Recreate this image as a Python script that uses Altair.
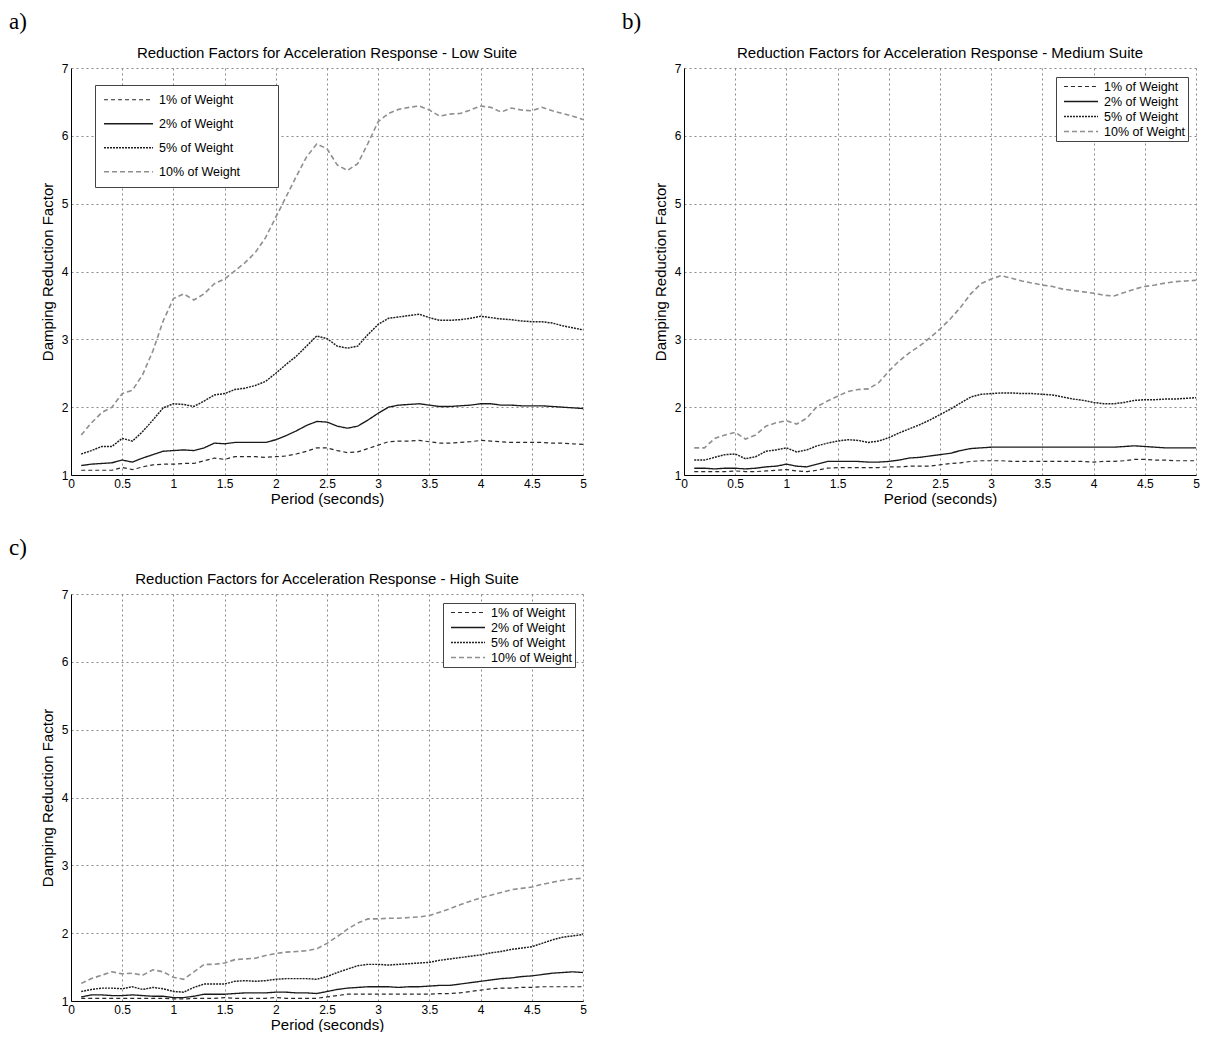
import altair as alt
import pandas as pd

periods = [round(0.1 * i, 1) for i in range(1, 51)]
series_names = ["1% of Weight", "2% of Weight", "5% of Weight", "10% of Weight"]
x_ticks = [0, 0.5, 1, 1.5, 2, 2.5, 3, 3.5, 4, 4.5, 5]
y_ticks = [1, 2, 3, 4, 5, 6, 7]

# ---- Panel a: Low Suite ----
low_1 = [1.07, 1.07, 1.07, 1.07, 1.11, 1.08, 1.12, 1.15, 1.16, 1.16,
         1.17, 1.17, 1.21, 1.25, 1.23, 1.27, 1.27, 1.27, 1.26, 1.27,
         1.28, 1.31, 1.35, 1.40, 1.40, 1.36, 1.33, 1.34, 1.39, 1.44,
         1.49, 1.50, 1.50, 1.51, 1.49, 1.47, 1.47, 1.48, 1.49, 1.51,
         1.50, 1.49, 1.48, 1.48, 1.48, 1.48, 1.47, 1.47, 1.46, 1.45]
low_2 = [1.14, 1.16, 1.17, 1.18, 1.22, 1.19, 1.25, 1.30, 1.35, 1.36,
         1.37, 1.36, 1.40, 1.47, 1.46, 1.48, 1.48, 1.48, 1.48, 1.52,
         1.58, 1.65, 1.73, 1.79, 1.78, 1.72, 1.69, 1.72, 1.81, 1.91,
         2.00, 2.03, 2.04, 2.05, 2.03, 2.01, 2.01, 2.02, 2.03, 2.05,
         2.05, 2.03, 2.03, 2.02, 2.02, 2.02, 2.01, 2.00, 1.99, 1.98]
low_5 = [1.31, 1.36, 1.42, 1.42, 1.54, 1.50, 1.64, 1.81, 1.99, 2.05,
         2.04, 2.01, 2.09, 2.18, 2.20, 2.26, 2.28, 2.32, 2.38, 2.50,
         2.63, 2.75, 2.90, 3.05, 3.01, 2.90, 2.87, 2.90, 3.07, 3.22,
         3.31, 3.33, 3.35, 3.37, 3.32, 3.28, 3.28, 3.29, 3.31, 3.34,
         3.32, 3.30, 3.29, 3.27, 3.26, 3.26, 3.24, 3.20, 3.17, 3.14]
low_10 = [1.59, 1.77, 1.92, 2.00, 2.20, 2.25, 2.48, 2.83, 3.27, 3.60,
          3.67, 3.58, 3.67, 3.82, 3.89, 4.01, 4.13, 4.28, 4.50, 4.80,
          5.10, 5.40, 5.69, 5.88, 5.81, 5.57, 5.49, 5.59, 5.89, 6.21,
          6.33, 6.39, 6.42, 6.44, 6.38, 6.29, 6.32, 6.33, 6.38, 6.44,
          6.42, 6.35, 6.41, 6.38, 6.37, 6.42, 6.37, 6.33, 6.29, 6.24]

# ---- Panel b: Medium Suite ----
med_1 = [1.05, 1.05, 1.05, 1.05, 1.06, 1.05, 1.05, 1.06, 1.07, 1.08,
         1.06, 1.05, 1.07, 1.10, 1.11, 1.11, 1.11, 1.11, 1.11, 1.12,
         1.12, 1.13, 1.13, 1.13, 1.15, 1.17, 1.18, 1.20, 1.21, 1.21,
         1.21, 1.20, 1.20, 1.20, 1.20, 1.20, 1.20, 1.20, 1.20, 1.19,
         1.20, 1.20, 1.21, 1.23, 1.23, 1.22, 1.22, 1.21, 1.21, 1.21]
med_2 = [1.10, 1.10, 1.09, 1.10, 1.10, 1.09, 1.10, 1.12, 1.13, 1.16,
         1.13, 1.12, 1.16, 1.20, 1.20, 1.20, 1.20, 1.19, 1.19, 1.20,
         1.22, 1.25, 1.26, 1.28, 1.30, 1.32, 1.36, 1.39, 1.40, 1.41,
         1.41, 1.41, 1.41, 1.41, 1.41, 1.41, 1.41, 1.41, 1.41, 1.41,
         1.41, 1.41, 1.42, 1.43, 1.42, 1.41, 1.40, 1.40, 1.40, 1.40]
med_5 = [1.22, 1.22, 1.26, 1.30, 1.31, 1.24, 1.27, 1.35, 1.37, 1.40,
         1.34, 1.37, 1.43, 1.47, 1.50, 1.52, 1.51, 1.48, 1.50, 1.55,
         1.62, 1.68, 1.74, 1.81, 1.89, 1.97, 2.06, 2.15, 2.19, 2.20,
         2.21, 2.21, 2.20, 2.20, 2.19, 2.18, 2.15, 2.12, 2.10, 2.07,
         2.05, 2.05, 2.07, 2.10, 2.11, 2.11, 2.12, 2.12, 2.13, 2.14]
med_10 = [1.40, 1.40, 1.54, 1.59, 1.63, 1.53, 1.59, 1.72, 1.77, 1.80,
          1.75, 1.84, 2.01, 2.09, 2.16, 2.23, 2.26, 2.27, 2.36, 2.53,
          2.68, 2.80, 2.90, 3.02, 3.15, 3.30, 3.47, 3.67, 3.82, 3.89,
          3.94, 3.90, 3.86, 3.83, 3.80, 3.78, 3.74, 3.72, 3.70, 3.68,
          3.65, 3.64, 3.69, 3.74, 3.78, 3.80, 3.83, 3.85, 3.86, 3.87]

# ---- Panel c: High Suite ----
high_1 = [1.04, 1.04, 1.04, 1.04, 1.04, 1.04, 1.04, 1.04, 1.04, 1.03,
          1.03, 1.04, 1.04, 1.04, 1.05, 1.04, 1.04, 1.04, 1.04, 1.05,
          1.04, 1.04, 1.04, 1.04, 1.06, 1.08, 1.10, 1.10, 1.10, 1.10,
          1.10, 1.10, 1.10, 1.10, 1.10, 1.11, 1.11, 1.12, 1.14, 1.16,
          1.18, 1.19, 1.19, 1.20, 1.20, 1.21, 1.21, 1.21, 1.21, 1.21]
high_2 = [1.06, 1.09, 1.09, 1.08, 1.08, 1.09, 1.08, 1.07, 1.07, 1.05,
          1.05, 1.07, 1.10, 1.10, 1.10, 1.11, 1.12, 1.12, 1.12, 1.13,
          1.13, 1.12, 1.12, 1.11, 1.14, 1.17, 1.19, 1.20, 1.21, 1.21,
          1.21, 1.20, 1.21, 1.21, 1.22, 1.23, 1.23, 1.25, 1.27, 1.29,
          1.31, 1.33, 1.34, 1.36, 1.37, 1.39, 1.41, 1.42, 1.43, 1.42]
high_5 = [1.14, 1.17, 1.19, 1.19, 1.18, 1.21, 1.17, 1.20, 1.18, 1.14,
          1.13, 1.20, 1.25, 1.25, 1.25, 1.29, 1.30, 1.29, 1.30, 1.32,
          1.33, 1.33, 1.33, 1.32, 1.36, 1.42, 1.47, 1.52, 1.54, 1.54,
          1.53, 1.54, 1.55, 1.56, 1.57, 1.60, 1.62, 1.64, 1.66, 1.68,
          1.71, 1.73, 1.76, 1.78, 1.80, 1.85, 1.90, 1.94, 1.96, 1.98]
high_10 = [1.26, 1.33, 1.38, 1.43, 1.40, 1.41, 1.38, 1.46, 1.43, 1.35,
           1.32, 1.43, 1.54, 1.54, 1.56, 1.61, 1.62, 1.63, 1.67, 1.70,
           1.72, 1.73, 1.74, 1.77, 1.85, 1.95, 2.06, 2.15, 2.21, 2.21,
           2.22, 2.22, 2.23, 2.24, 2.26, 2.31, 2.36, 2.42, 2.47, 2.52,
           2.56, 2.60, 2.64, 2.66, 2.68, 2.72, 2.75, 2.78, 2.80, 2.81]

line_colors = ["#2a2a2a", "#1a1a1a", "#1e1e1e", "#8f8f8f"]
line_dashes = [[4, 3], [1, 0], [2, 1], [5, 3]]
line_widths = [1.2, 1.6, 2.0, 1.0]

FONT = "Liberation Sans"
W, H = 512, 407
# trailing blank space in the low-suite legend box (ZWSP keeps it from being trimmed)
PAD_TEXT = "\u00a0" * 10 + "\u200b"


def make_panel(series, title, letter, legend_kwargs):
    rows = []
    for name, vals in zip(series_names, series):
        for p, v in zip(periods, vals):
            rows.append({"period": p, "value": v, "series": name})
    df = pd.DataFrame(rows)

    leg = dict(title=None, symbolType="stroke", orient="none",
               fillColor="white", strokeColor="#444444",
               labelFont=FONT, labelColor="black", labelFontSize=12.5,
               rowPadding=0, symbolOffset=5, labelOffset=5,
               **legend_kwargs)

    lines = alt.Chart(df).mark_line(clip=True).encode(
        x=alt.X("period:Q",
                scale=alt.Scale(domain=[0, 5], nice=False, zero=False),
                axis=alt.Axis(values=x_ticks, format="~g",
                              title="Period (seconds)")),
        y=alt.Y("value:Q",
                scale=alt.Scale(domain=[1, 7], nice=False, zero=False),
                axis=alt.Axis(values=y_ticks, format="d",
                              title="Damping Reduction Factor")),
        color=alt.Color("series:N", sort=series_names,
                        scale=alt.Scale(domain=series_names, range=line_colors),
                        legend=alt.Legend(**leg)),
        strokeDash=alt.StrokeDash("series:N", sort=series_names,
                                  scale=alt.Scale(domain=series_names, range=line_dashes),
                                  legend=alt.Legend(**leg)),
        strokeWidth=alt.StrokeWidth("series:N", sort=series_names,
                                    scale=alt.Scale(domain=series_names, range=line_widths),
                                    legend=alt.Legend(**leg)),
        order="period:Q",
    )

    lab = alt.Chart(pd.DataFrame({"t": [letter]})).mark_text(
        font="Liberation Serif", fontSize=23, align="left",
        baseline="middle", color="black"
    ).encode(text="t:N", x=alt.value(-62), y=alt.value(-46))

    ttl = alt.Chart(pd.DataFrame({"t": [title]})).mark_text(
        font=FONT, fontSize=15, align="center",
        baseline="middle", color="black"
    ).encode(text="t:N", x=alt.value(W / 2), y=alt.value(-15))

    return alt.layer(lines, lab, ttl).properties(width=W, height=H)


legend_a = dict(legendX=24, legendY=17, padding=3, clipHeight=23.5,
                symbolSize=2400, labelExpr="datum.label + '" + PAD_TEXT + "'")
legend_bc = dict(legendX=372, legendY=9, padding=2, clipHeight=15,
                 symbolSize=1160)

pa = make_panel([low_1, low_2, low_5, low_10],
                "Reduction Factors for Acceleration Response - Low Suite", "a)", legend_a)
pb = make_panel([med_1, med_2, med_5, med_10],
                "Reduction Factors for Acceleration Response - Medium Suite", "b)", legend_bc)
pc = make_panel([high_1, high_2, high_5, high_10],
                "Reduction Factors for Acceleration Response - High Suite", "c)", legend_bc)

top = alt.hconcat(pa, pb, spacing=35).resolve_scale(
    color="independent", strokeDash="independent", strokeWidth="independent"
).resolve_legend(color="independent", strokeDash="independent", strokeWidth="independent")

chart = alt.vconcat(top, pc, spacing=31).resolve_scale(
    color="independent", strokeDash="independent", strokeWidth="independent"
).resolve_legend(color="independent", strokeDash="independent", strokeWidth="independent"
).configure_view(stroke=None).configure_axis(
    labelFont=FONT, labelFontSize=12, labelColor="black", labelFlush=False,
    titleFont=FONT, titleFontSize=15, titleFontWeight="normal", titleColor="black",
    domainColor="black", domainWidth=1, ticks=False,
    grid=True, gridColor="#8a8a8a", gridDash=[2, 3], gridWidth=1,
).configure_axisY(titlePadding=6, labelPadding=3).configure_axisX(titlePadding=2, labelPadding=3
).properties(background="white", padding={"left": 1, "top": 3, "right": 0, "bottom": 0})

chart.save("out.html", embed_options={"renderer": "svg", "actions": False})
